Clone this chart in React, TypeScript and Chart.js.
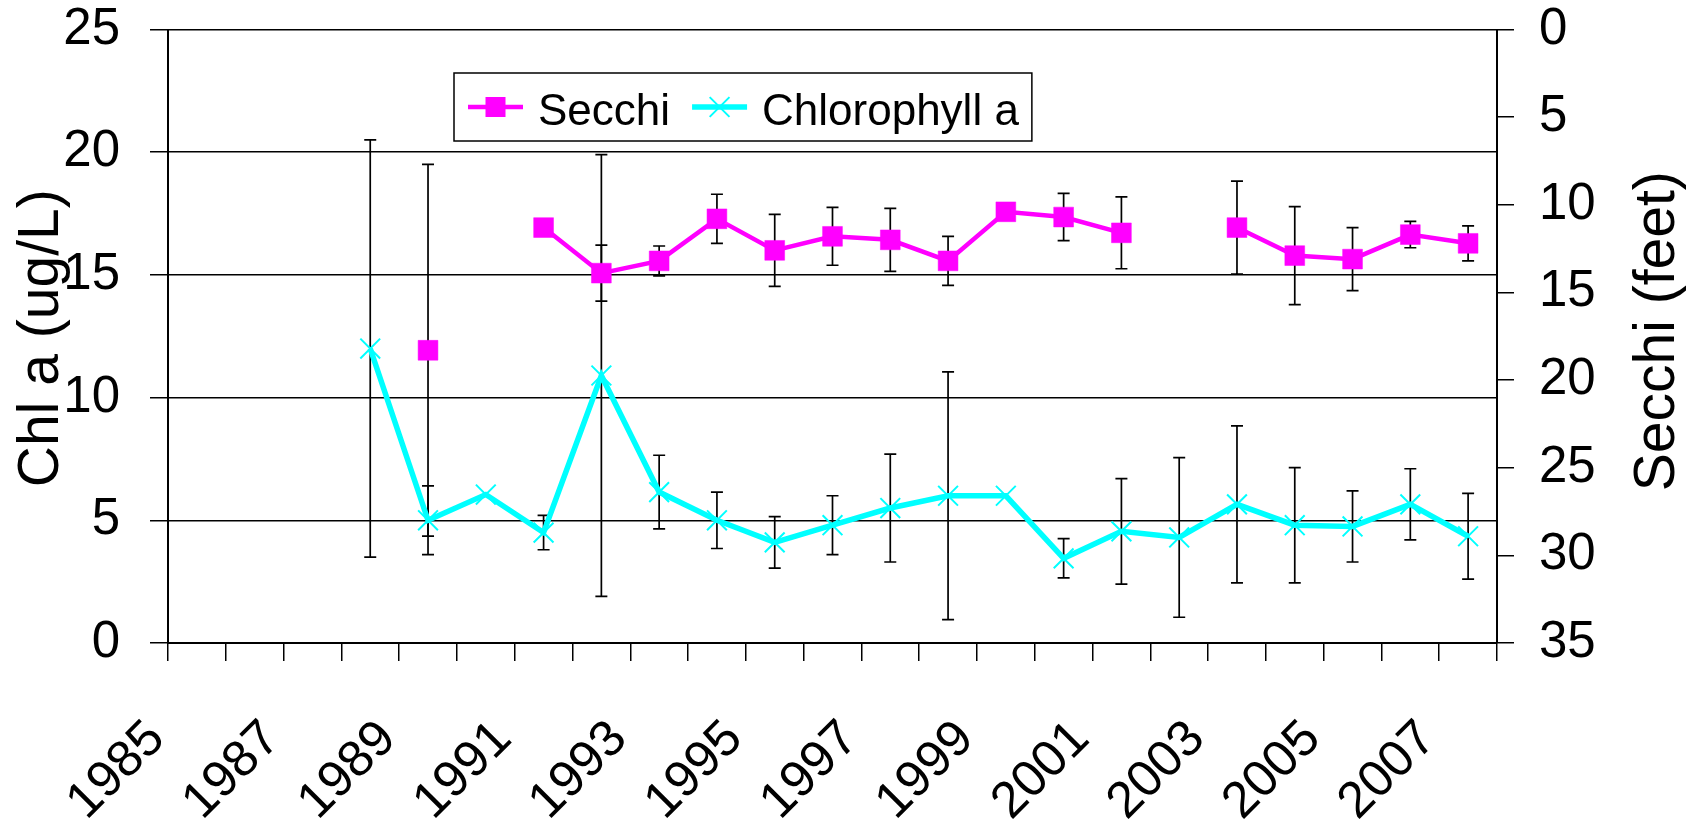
import { useEffect, useRef } from 'react';
import { Chart, registerables } from 'chart.js';

Chart.register(...registerables);

// Sampling years (one category per year)
const years = [
  '1985', '1986', '1987', '1988', '1989', '1990', '1991', '1992', '1993', '1994', '1995', '1996',
  '1997', '1998', '1999', '2000', '2001', '2002', '2003', '2004', '2005', '2006', '2007',
];

// Annual mean Secchi depth (feet), right axis (inverted)
const secchiFeet = [
  null, null, null, null, 18.3, null, 11.3, 13.9, 13.2, 10.8, 12.6, 11.8,
  12.0, 13.2, 10.4, 10.7, 11.6, null, 11.3, 12.9, 13.1, 11.7, 12.2,
];
// +/- spread for Secchi depth (feet)
const secchiError = [
  null, null, null, null, 10.6, null, null, 1.6, 0.85, 1.4, 2.05, 1.65,
  1.8, 1.4, null, 1.35, 2.05, null, 2.65, 2.8, 1.8, 0.75, 1.0,
];

// Annual mean chlorophyll a (ug/L), left axis
const chlorophyll = [
  null, null, null, 12.0, 5.0, 6.05, 4.5, 10.9, 6.15, 5.0, 4.1, 4.8,
  5.5, 6.0, 6.0, 3.45, 4.55, 4.3, 5.65, 4.8, 4.75, 5.65, 4.35,
];
// +/- spread for chlorophyll a (ug/L)
const chlorophyllError = [
  null, null, null, 8.5, 1.4, null, 0.7, 9.0, 1.5, 1.15, 1.05, 1.2,
  2.2, 5.05, null, 0.8, 2.15, 3.25, 3.2, 2.35, 1.45, 1.45, 1.75,
];

const chlTicks = [0, 5, 10, 15, 20, 25];
const secchiTicks = [0, 5, 10, 15, 20, 25, 30, 35];

const FONT = '"Liberation Sans", Arial, Helvetica, sans-serif';
const MAGENTA = '#FF00FF';
const CYAN = '#00FFFF';

// Vertical black error bars with caps, drawn under the series markers
const errorBarPlugin = {
  id: 'errorBars',
  beforeDatasetsDraw(chart: any) {
    const ctx = chart.ctx;
    ctx.save();
    ctx.strokeStyle = '#000';
    ctx.lineWidth = 1.7;
    const cap = 6;
    chart.data.datasets.forEach((ds: any, i: number) => {
      const errs = ds.errors;
      if (!errs) return;
      const meta = chart.getDatasetMeta(i);
      const yScale = chart.scales[meta.yAxisID];
      meta.data.forEach((pt: any, j: number) => {
        const v = ds.data[j];
        const e = errs[j];
        if (v == null || e == null) return;
        const x = pt.x;
        const yA = yScale.getPixelForValue(v - e);
        const yB = yScale.getPixelForValue(v + e);
        ctx.beginPath();
        ctx.moveTo(x, yA);
        ctx.lineTo(x, yB);
        ctx.moveTo(x - cap, yA);
        ctx.lineTo(x + cap, yA);
        ctx.moveTo(x - cap, yB);
        ctx.lineTo(x + cap, yB);
        ctx.stroke();
      });
    });
    ctx.restore();
  },
};

function drawMarker(ctx: CanvasRenderingContext2D, style: string, x: number, y: number, color: string) {
  ctx.save();
  if (style === 'rect') {
    ctx.fillStyle = color;
    ctx.fillRect(x - 10, y - 10, 20, 20);
  } else {
    ctx.strokeStyle = color;
    ctx.lineWidth = 2;
    const d = 9.9;
    ctx.beginPath();
    ctx.moveTo(x - d, y - d);
    ctx.lineTo(x + d, y + d);
    ctx.moveTo(x - d, y + d);
    ctx.lineTo(x + d, y - d);
    ctx.stroke();
  }
  ctx.restore();
}

// Boxed legend inside the plot, one row
const boxLegendPlugin = {
  id: 'boxLegend',
  afterDatasetsDraw(chart: any) {
    const ctx = chart.ctx;
    const area = chart.chartArea;
    const left = area.left + 286;
    const top = area.top + 43.5;
    const height = 68;
    const padL = 14;
    const sample = 55;
    const gapText = 15;
    const gapItem = 22;
    const padR = 13;
    ctx.save();
    ctx.font = `44px ${FONT}`;
    const items = chart.data.datasets.map((ds: any) => ({
      label: ds.label,
      color: ds.borderColor,
      style: ds.pointStyle,
      lineWidth: ds.borderWidth,
      w: ctx.measureText(ds.label).width,
    }));
    let width = padL + padR;
    items.forEach((it: any, k: number) => {
      width += sample + gapText + it.w + (k < items.length - 1 ? gapItem : 0);
    });
    ctx.fillStyle = '#fff';
    ctx.fillRect(left, top, width, height);
    ctx.strokeStyle = '#000';
    ctx.lineWidth = 1.5;
    ctx.strokeRect(left, top, width, height);
    const cy = top + height / 2;
    let x = left + padL;
    items.forEach((it: any) => {
      ctx.strokeStyle = it.color;
      ctx.lineWidth = it.lineWidth;
      ctx.beginPath();
      ctx.moveTo(x, cy);
      ctx.lineTo(x + sample, cy);
      ctx.stroke();
      drawMarker(ctx, it.style, x + sample / 2, cy, it.color);
      x += sample + gapText;
      ctx.fillStyle = '#000';
      ctx.textAlign = 'left';
      ctx.textBaseline = 'alphabetic';
      ctx.fillText(it.label, x, top + 52);
      x += it.w + gapItem;
    });
    ctx.restore();
  },
};

// Rotated axis titles, both reading bottom to top
const axisTitlePlugin = {
  id: 'axisTitles',
  afterDraw(chart: any) {
    const ctx = chart.ctx;
    const area = chart.chartArea;
    const midY = (area.top + area.bottom) / 2;
    ctx.save();
    ctx.fillStyle = '#000';
    ctx.font = `57px ${FONT}`;
    ctx.textAlign = 'center';
    ctx.textBaseline = 'middle';
    ctx.translate(area.left - 126, midY + 2);
    ctx.rotate(-Math.PI / 2);
    ctx.fillText('Chl a (ug/L)', 0, 0);
    ctx.restore();

    ctx.save();
    ctx.fillStyle = '#000';
    ctx.font = `57px ${FONT}`;
    ctx.textAlign = 'center';
    ctx.textBaseline = 'middle';
    ctx.translate(area.right + 161, midY - 5);
    ctx.rotate(-Math.PI / 2);
    ctx.fillText('Secchi (feet)', 0, 0);
    ctx.restore();
  },
};

export default function App() {
  const canvasRef = useRef<HTMLCanvasElement | null>(null);

  useEffect(() => {
    const canvas = canvasRef.current;
    if (!canvas) return;
    const chart = new Chart(canvas, {
      type: 'line',
      data: {
        labels: years,
        datasets: [
          {
            label: 'Secchi',
            data: secchiFeet,
            errors: secchiError,
            yAxisID: 'y2',
            borderColor: MAGENTA,
            backgroundColor: MAGENTA,
            borderWidth: 4.5,
            pointStyle: 'rect',
            pointRadius: 14,
            pointBorderWidth: 0.5,
            pointBackgroundColor: MAGENTA,
            pointBorderColor: MAGENTA,
            spanGaps: false,
            tension: 0,
          } as any,
          {
            label: 'Chlorophyll a',
            data: chlorophyll,
            errors: chlorophyllError,
            yAxisID: 'y',
            borderColor: CYAN,
            backgroundColor: CYAN,
            borderWidth: 5.5,
            pointStyle: 'crossRot',
            pointRadius: 14,
            pointBorderWidth: 2,
            pointBorderColor: CYAN,
            spanGaps: false,
            tension: 0,
          } as any,
        ],
      },
      options: {
        animation: false,
        responsive: false,
        maintainAspectRatio: false,
        layout: { padding: { top: 29.5, left: 0, right: 0, bottom: 0 } },
        plugins: {
          legend: { display: false },
          tooltip: { enabled: false },
        },
        scales: {
          x: {
            type: 'category',
            offset: true,
            grid: {
              display: true,
              drawOnChartArea: false,
              offset: true,
              tickLength: 18,
              color: '#000',
              lineWidth: 1.5,
            },
            border: { display: true, color: '#000', width: 2 },
            ticks: {
              autoSkip: false,
              minRotation: 45,
              maxRotation: 45,
              padding: 48,
              labelOffset: -40,
              color: '#000',
              font: { family: FONT, size: 51 },
              callback: (_v: any, i: number) => (i % 2 === 0 ? years[i] : ''),
            },
            afterFit: (s: any) => {
              s.height = 179;
              s.paddingLeft = 0;
              s.paddingRight = 0;
            },
          },
          y: {
            position: 'left',
            min: chlTicks[0],
            max: chlTicks[chlTicks.length - 1],
            afterBuildTicks: (s: any) => {
              s.ticks = chlTicks.map((v) => ({ value: v }));
            },
            grid: { color: '#000', lineWidth: 1.5, tickLength: 18, tickColor: '#000' },
            border: { display: true, color: '#000', width: 2 },
            ticks: { padding: 30, color: '#000', font: { family: FONT, size: 51 } },
            afterFit: (s: any) => {
              s.width = 168;
              s.paddingTop = 0;
              s.paddingBottom = 0;
            },
          },
          y2: {
            position: 'right',
            min: secchiTicks[0],
            max: secchiTicks[secchiTicks.length - 1],
            reverse: true,
            afterBuildTicks: (s: any) => {
              s.ticks = secchiTicks.map((v) => ({ value: v }));
            },
            grid: { drawOnChartArea: false, color: '#000', lineWidth: 1.5, tickLength: 17 },
            border: { display: true, color: '#000', width: 2 },
            ticks: { padding: 25, color: '#000', font: { family: FONT, size: 51 } },
            afterFit: (s: any) => {
              s.width = 197;
              s.paddingTop = 0;
              s.paddingBottom = 0;
            },
          },
        },
      } as any,
      plugins: [errorBarPlugin, boxLegendPlugin, axisTitlePlugin],
    });
    return () => chart.destroy();
  }, []);

  return (
    <div style={{ position: 'fixed', left: 0, top: 0, width: 1694, height: 822, background: '#fff' }}>
      <canvas ref={canvasRef} width={1694} height={822} style={{ display: 'block' }} />
    </div>
  );
}
